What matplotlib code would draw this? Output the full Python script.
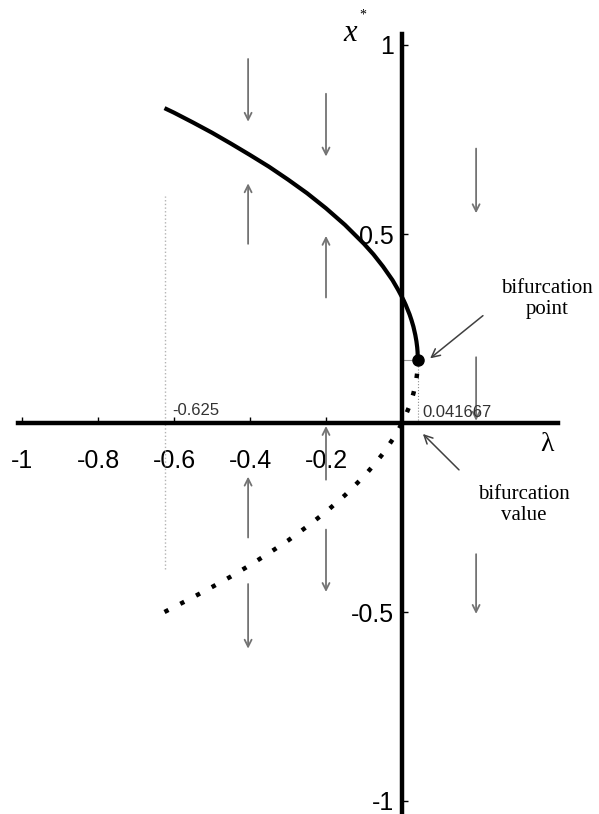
import matplotlib
matplotlib.use("Agg")
import matplotlib.pyplot as plt

# Equilibrium branches x*(lambda) of the saddle-node bifurcation
lam = [-0.625, -0.6, -0.55, -0.5, -0.45, -0.4, -0.35, -0.3, -0.25, -0.2,
       -0.15, -0.1, -0.075, -0.05, -0.025, -0.01, 0.0, 0.005, 0.01, 0.02,
       0.025, 0.03, 0.035, 0.038, 0.04, 0.041, 0.041667]
x_stable = [0.833, 0.821, 0.795, 0.768, 0.739, 0.709, 0.678, 0.644, 0.608, 0.568,
            0.524, 0.474, 0.446, 0.414, 0.378, 0.352, 0.333, 0.323, 0.312, 0.287,
            0.272, 0.255, 0.233, 0.216, 0.200, 0.188, 0.1667]
x_unstable = [-0.500, -0.487, -0.461, -0.434, -0.406, -0.376, -0.344, -0.311, -0.274, -0.235,
              -0.191, -0.141, -0.112, -0.081, -0.044, -0.019, 0.000, 0.010, 0.021, 0.046,
              0.061, 0.078, 0.100, 0.117, 0.133, 0.146, 0.1667]

bif_lambda = 0.041667
bif_x = 0.1667
left_end = -0.625

# Flow direction arrows: (lambda, start, end)
flow_arrows = [
    (-0.405, 0.963, 0.797), (-0.405, 0.474, 0.634),
    (-0.405, -0.303, -0.142), (-0.405, -0.426, -0.597),
    (-0.200, 0.871, 0.705), (-0.200, 0.332, 0.495),
    (-0.200, -0.150, -0.008), (-0.200, -0.282, -0.447),
    (0.195, 0.726, 0.555), (0.195, 0.174, 0.006), (0.195, -0.347, -0.505),
]

x_ticks = [-1, -0.8, -0.6, -0.4, -0.2]
x_tick_labels = ["-1", "-0.8", "-0.6", "-0.4", "-0.2"]
y_ticks = [-1, -0.5, 0.5, 1]
y_tick_labels = ["-1", "-0.5", "0.5", "1"]

fig = plt.figure(figsize=(5.99, 8.14), dpi=100)
ax = fig.add_axes([0, 0, 1, 1])
ax.set_xlim(-402 / 380, 197 / 380)
ax.set_ylim(-391 / 378, 423 / 378)

for s in ("top", "right"):
    ax.spines[s].set_visible(False)
ax.spines["left"].set_position(("data", 0))
ax.spines["bottom"].set_position(("data", 0))
ax.spines["left"].set_linewidth(3.2)
ax.spines["bottom"].set_linewidth(3.2)
ax.spines["left"].set_bounds(-1.04, 1.03)
ax.spines["bottom"].set_bounds(-1.01, 0.41)

sans = ["Liberation Sans", "DejaVu Sans"]
serif = ["Liberation Serif", "DejaVu Serif"]

ax.set_xticks(x_ticks)
ax.set_xticklabels(x_tick_labels, family=sans, fontsize=18)
ax.set_yticks(y_ticks)
ax.set_yticklabels(y_tick_labels, family=sans, fontsize=18)
ax.tick_params(axis="x", direction="in", length=4, width=1, pad=19)
ax.tick_params(axis="y", direction="in", length=4, width=1, pad=6)

# guide lines
ax.plot([left_end, left_end], [-0.387, 0.6], color="0.7", lw=1, ls=":")
ax.plot([bif_lambda, bif_lambda], [0, bif_x], color="0.55", lw=0.8, ls=":")
ax.plot([0, bif_lambda], [bif_x, bif_x], color="0.6", lw=0.8)

# branches
ax.plot(lam, x_stable, color="black", lw=3.0, solid_capstyle="butt",
        solid_joinstyle="round")
ax.plot(lam, x_unstable, color="black", lw=3.2, ls=(0, (1, 3)))
ax.plot([bif_lambda], [bif_x], "o", color="black", ms=8)

for lx, y0, y1 in flow_arrows:
    ax.annotate("", xy=(lx, y1), xytext=(lx, y0),
                arrowprops=dict(arrowstyle="->,head_length=0.5,head_width=0.25",
                                color="0.45", lw=1.3, shrinkA=0, shrinkB=0))

ax.text(-0.605, 0.032, "-0.625", family=sans, fontsize=12, color="0.2",
        ha="left", va="center")
ax.text(0.053, 0.029, "0.041667", family=sans, fontsize=12, color="0.2",
        ha="left", va="center")

ax.annotate("", xy=(0.074, 0.171), xytext=(0.213, 0.284),
            arrowprops=dict(arrowstyle="->,head_length=0.6,head_width=0.3",
                            color="0.25", lw=1.1, shrinkA=0, shrinkB=0))
ax.text(0.382, 0.329, "bifurcation\npoint", family=serif, fontsize=15,
        ha="center", va="center", linespacing=1.15)
ax.annotate("", xy=(0.055, -0.029), xytext=(0.150, -0.124),
            arrowprops=dict(arrowstyle="->,head_length=0.6,head_width=0.3",
                            color="0.25", lw=1.1, shrinkA=0, shrinkB=0))
ax.text(0.321, -0.216, "bifurcation\nvalue", family=serif, fontsize=15,
        ha="center", va="center", linespacing=1.15)

ax.text(0.382, -0.058, "λ", family=serif, fontsize=20, ha="center", va="center")
ax.text(-0.137, 1.03, "x", family=serif, style="italic", fontsize=22,
        ha="center", va="center")
ax.text(-0.103, 1.078, "*", family=serif, fontsize=10, ha="center", va="center")

fig.savefig("out.png", dpi=100)
